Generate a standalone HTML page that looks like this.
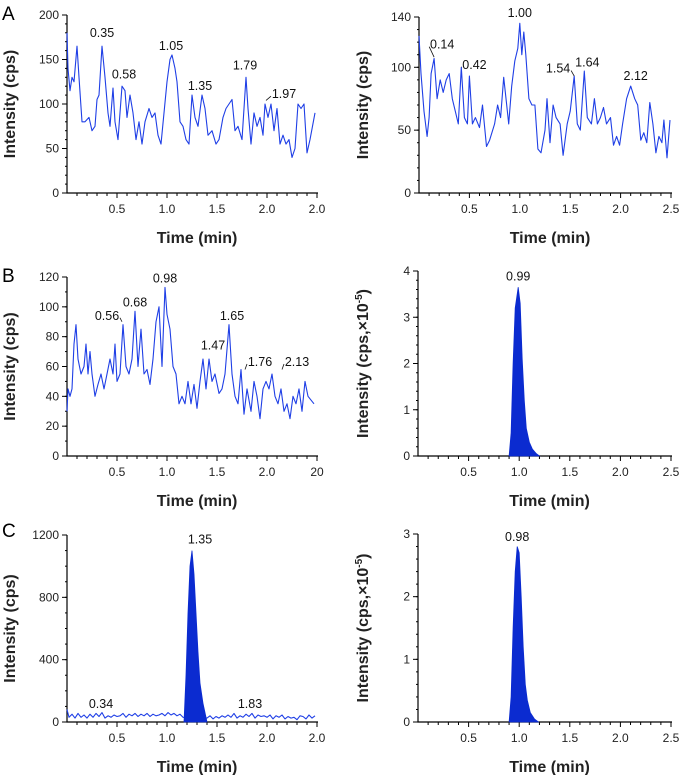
<!DOCTYPE html>
<html><head><meta charset="utf-8"><style>
html,body{margin:0;padding:0;background:#fff}
svg{display:block;font-family:"Liberation Sans",Arial,sans-serif}
</style></head><body>
<svg id="fig" width="690" height="775" viewBox="0 0 690 775">
<text x="2" y="20" font-size="19">A</text>
<text x="2" y="282" font-size="19">B</text>
<text x="2" y="537" font-size="19">C</text>
</svg>
<script>
// ---- data ----
const aLeftTimes=[0,0.01,0.03,0.05,0.07,0.10,0.12,0.15,0.18,0.22,0.25,0.28,0.30,0.32,0.35,0.38,0.41,0.43,0.46,0.48,0.51,0.55,0.58,0.60,0.63,0.66,0.69,0.72,0.75,0.78,0.82,0.85,0.88,0.91,0.94,0.97,1.00,1.03,1.05,1.08,1.10,1.13,1.16,1.19,1.22,1.25,1.28,1.31,1.35,1.38,1.41,1.45,1.49,1.52,1.56,1.59,1.62,1.65,1.68,1.71,1.75,1.79,1.81,1.84,1.87,1.90,1.93,1.96,1.98,2.01,2.04,2.07,2.10,2.13,2.16,2.19,2.22,2.25,2.28,2.31,2.34,2.37,2.40,2.43,2.48];
const aLeftValues=[180,140,115,130,125,165,130,80,80,85,70,75,105,110,165,130,90,75,118,80,60,120,115,85,110,90,60,80,55,80,95,85,90,65,55,90,125,150,155,140,125,80,75,60,55,110,85,75,110,95,65,70,55,60,85,95,100,105,70,75,60,130,95,55,90,75,85,65,100,85,100,70,95,55,65,55,60,40,50,100,95,100,45,60,90];
const aRightTimes=[0,0.02,0.05,0.08,0.10,0.12,0.15,0.18,0.21,0.24,0.27,0.30,0.33,0.36,0.39,0.42,0.45,0.48,0.50,0.53,0.56,0.60,0.63,0.67,0.70,0.75,0.78,0.81,0.84,0.87,0.89,0.92,0.95,0.98,1.00,1.02,1.04,1.06,1.09,1.12,1.15,1.18,1.21,1.25,1.27,1.30,1.33,1.36,1.40,1.43,1.47,1.50,1.54,1.57,1.60,1.64,1.67,1.71,1.74,1.77,1.80,1.83,1.86,1.90,1.93,1.96,1.99,2.02,2.06,2.10,2.14,2.17,2.20,2.23,2.26,2.29,2.32,2.35,2.38,2.41,2.43,2.46,2.49];
const aRightValues=[125,95,65,45,60,95,107,75,90,80,90,95,75,65,55,100,60,55,93,55,60,52,70,37,42,55,70,60,92,70,55,85,105,115,135,110,128,110,75,70,70,35,32,50,75,40,70,60,55,30,55,65,93,55,50,97,60,55,75,55,60,68,55,60,38,45,38,55,75,85,75,70,42,48,40,72,55,32,45,40,58,28,58];
const bLeftTimes=[0,0.01,0.03,0.05,0.07,0.09,0.11,0.14,0.17,0.19,0.21,0.23,0.25,0.28,0.31,0.34,0.37,0.40,0.43,0.46,0.48,0.50,0.53,0.56,0.59,0.62,0.65,0.68,0.71,0.74,0.77,0.80,0.83,0.86,0.89,0.92,0.95,0.98,1.00,1.03,1.06,1.09,1.12,1.15,1.18,1.21,1.24,1.27,1.30,1.33,1.36,1.39,1.42,1.45,1.48,1.52,1.55,1.58,1.62,1.65,1.68,1.71,1.74,1.77,1.80,1.84,1.87,1.90,1.93,1.96,1.99,2.02,2.05,2.08,2.11,2.14,2.17,2.20,2.23,2.26,2.29,2.32,2.35,2.38,2.41,2.47];
const bLeftValues=[30,45,40,45,75,88,65,55,60,75,55,70,55,40,48,55,45,55,65,55,75,50,55,88,60,55,65,97,60,85,55,58,48,65,90,100,60,113,95,85,60,55,35,40,35,50,35,48,32,50,65,45,65,50,55,42,45,55,88,55,40,35,58,28,45,30,50,40,25,45,50,45,55,40,35,45,30,35,25,40,35,45,30,50,40,35];
const cLeftTimes=[0,0.02,0.05,0.08,0.11,0.14,0.17,0.20,0.23,0.26,0.29,0.32,0.35,0.38,0.41,0.44,0.47,0.50,0.53,0.56,0.59,0.62,0.65,0.68,0.71,0.74,0.77,0.80,0.83,0.86,0.89,0.92,0.95,0.98,1.01,1.04,1.07,1.10,1.13,1.16,1.40,1.43,1.46,1.49,1.52,1.55,1.58,1.61,1.64,1.67,1.70,1.73,1.76,1.79,1.82,1.85,1.88,1.91,1.94,1.97,2.00,2.03,2.06,2.09,2.12,2.15,2.18,2.21,2.24,2.27,2.30,2.33,2.36,2.39,2.42,2.45,2.48];
const cLeftValues=[80,30,50,25,55,30,45,25,50,30,55,35,60,25,40,30,45,35,40,55,30,50,40,55,35,50,40,55,35,50,40,45,55,40,60,45,55,40,50,30,25,40,20,35,25,40,30,45,30,55,25,40,30,50,35,55,25,45,35,40,30,45,20,40,30,45,20,35,25,30,15,40,35,20,45,25,40];
const cLeftPeakTimes=[1.17,1.19,1.21,1.23,1.25,1.27,1.29,1.31,1.33,1.36,1.38,1.40];
const cLeftPeakValues=[0,300,700,1000,1100,950,700,450,250,120,60,0];
const bRightPeakTimes=[0.90,0.92,0.94,0.96,0.99,1.01,1.03,1.05,1.07,1.10,1.13,1.17,1.20];
const bRightPeakValues=[0,0.5,2.0,3.2,3.65,3.3,2.1,1.2,0.6,0.3,0.15,0.05,0];
const cRightPeakTimes=[0.90,0.92,0.94,0.96,0.98,1.00,1.02,1.04,1.06,1.08,1.11,1.15,1.19];
const cRightPeakValues=[0,0.4,1.5,2.4,2.8,2.7,2.0,1.2,0.6,0.35,0.15,0.05,0];
const xTickValues=[0.5,1.0,1.5,2.0,2.5];
const xTickLabelsLeftA=["0.5","1.0","1.5","2.0","2.0"];
const xTickLabelsLeftB=["0.5","1.0","1.5","2.0","20"];
const xTickLabelsLeftC=["0.5","1.0","1.5","2.0","2.0"];
const xTickLabelsRight=["0.5","1.0","1.5","2.0","2.5"];
const aLeftYTicks=[0,50,100,150,200];
const aRightYTicks=[0,50,100,140];
const bLeftYTicks=[0,20,40,60,80,100,120];
const bRightYTicks=[0,1,2,3,4];
const cLeftYTicks=[0,400,800,1200];
const cRightYTicks=[0,1,2,3];
// annotation: label text, label time, label value, leader-from time, leader-from value (null = no leader)
const aLeftNotes=[["0.35",0.35,180,null,null],["0.58",0.57,133,null,null],["1.05",1.04,165,null,null],["1.35",1.33,120,null,null],["1.79",1.78,143,null,null],["1.97",2.17,111,1.99,104]];
const aRightNotes=[["0.14",0.23,118,0.15,108],["0.42",0.55,102,0.42,100],["1.00",1.00,143,null,null],["1.54",1.38,99,1.54,93],["1.64",1.67,104,null,null],["2.12",2.15,93,null,null]];
const bLeftNotes=[["0.56",0.40,94,0.55,90],["0.68",0.68,103,null,null],["0.98",0.98,119,null,null],["1.47",1.46,74,null,null],["1.65",1.65,94,null,null],["1.76",1.93,63,1.78,58],["2.13",2.30,63,2.15,58]];
const bRightNotes=[["0.99",0.99,3.88,null,null]];
const cLeftNotes=[["1.35",1.33,1170,null,null],["0.34",0.34,115,null,null],["1.83",1.83,115,null,null]];
const cRightNotes=[["0.98",0.98,2.95,null,null]];

const NS="http://www.w3.org/2000/svg";
const svg=document.getElementById('fig');
const LINE="#1f3fe6", FILL="#0b2bd0";
function mk(tag,attrs,parent){const e=document.createElementNS(NS,tag);for(const k in attrs)e.setAttribute(k,attrs[k]);(parent||svg).appendChild(e);return e;}

function panel(c){
  const g=mk('g',{});
  
  
  const xs=t=>c.x0+t/2.5*(c.x1-c.x0);
  const ys=v=>c.yb-v/c.ymax*(c.yb-c.yt);
  // axes
  const ax=mk('path',{d:`M${c.x0},${c.yt} V${c.yb} H${c.x1+1}`,stroke:'#000','stroke-width':1.2,fill:'none'},g);
  
  
  // x minor ticks
  for(let i=1;i<=25;i++){const t=i/10;const x=xs(t);const major=(i%5===0);
    mk('line',{x1:x,x2:x,y1:c.yb,y2:c.yb+(major?5:3),stroke:'#000','stroke-width':1},g);}
  xTickValues.forEach((t,i)=>{const tx=mk('text',{x:xs(t),y:c.yb+20,'font-size':12,'text-anchor':'middle',fill:'#222'},g);tx.textContent=c.xLabels[i];
    
    });
  // y ticks
  const step=c.ymax/c.minorN;
  for(let i=0;i<=c.minorN;i++){const y=ys(i*step);mk('line',{x1:c.x0-2,x2:c.x0,y1:y,y2:y,stroke:'#000','stroke-width':1},g);}
  c.yTicks.forEach(v=>{const y=ys(v);mk('line',{x1:c.x0-5,x2:c.x0,y1:y,y2:y,stroke:'#000','stroke-width':1},g);
    const tx=mk('text',{x:c.x0-8,y:y+4,'font-size':12,'text-anchor':'end',fill:'#222'},g);tx.textContent=String(v);
    
    });
  // titles
  const xt=mk('text',{x:(c.x0+c.x1)/2+5,y:c.yb+50,'font-size':16,'font-weight':'bold','text-anchor':'middle',fill:'#222'},g);
  xt.textContent='Time (min)';
  
  
  const cy=(c.yt+c.yb)/2;
  const yt=mk('text',{x:0,y:0,'font-size':16,'font-weight':'bold','text-anchor':'middle',fill:'#222',transform:`translate(${c.ytx},${cy}) rotate(-90)`},g);
  if(c.sci){yt.textContent='Intensity (cps,×10';const s=mk('tspan',{dy:-6,'font-size':10},yt);s.textContent='-5';const s2=mk('tspan',{dy:6},yt);s2.textContent=')';}
  else yt.textContent='Intensity (cps)';
  
  
  // line trace
  if(c.times){const d=c.times.map((t,i)=>(i?'L':'M')+xs(t).toFixed(1)+','+ys(c.values[i]).toFixed(1)).join(' ');
    const p=mk('path',{d,stroke:LINE,'stroke-width':1.1,fill:'none','stroke-linejoin':'round'},g);
    
    }
  if(c.peakT){const d=c.peakT.map((t,i)=>(i?'L':'M')+xs(t).toFixed(1)+','+ys(c.peakV[i]).toFixed(1)).join(' ')+'Z';
    const p=mk('path',{d,fill:FILL,stroke:FILL,'stroke-width':0.8},g);
    
    }
  c.notes.forEach(n=>{const tx=mk('text',{x:xs(n[1]),y:ys(n[2])+4,'font-size':12.5,'text-anchor':'middle',fill:'#111'},g);tx.textContent=n[0];
    
    
    if(n[3]!==null){const lx=xs(n[1])+(n[3]<n[1]?-13:13);mk('line',{x1:lx,y1:ys(n[2])+2,x2:xs(n[3]),y2:ys(n[4]),stroke:'#111','stroke-width':0.8},g);}});
}
panel({name:'panel-a-left',x0:67,x1:317,yt:15,yb:193,ymax:200,minorN:20,yTicks:aLeftYTicks,xLabels:xTickLabelsLeftA,ytx:15,times:aLeftTimes,values:aLeftValues,notes:aLeftNotes});
panel({name:'panel-a-right',x0:419,x1:671,yt:17,yb:193,ymax:140,minorN:14,yTicks:aRightYTicks,xLabels:xTickLabelsRight,ytx:368,times:aRightTimes,values:aRightValues,notes:aRightNotes});
panel({name:'panel-b-left',x0:67,x1:317,yt:277,yb:456,ymax:120,minorN:12,yTicks:bLeftYTicks,xLabels:xTickLabelsLeftB,ytx:15,times:bLeftTimes,values:bLeftValues,notes:bLeftNotes});
panel({name:'panel-b-right',x0:418,x1:671,yt:271,yb:456,ymax:4,minorN:20,yTicks:bRightYTicks,xLabels:xTickLabelsRight,ytx:368,sci:true,peakT:bRightPeakTimes,peakV:bRightPeakValues,notes:bRightNotes});
panel({name:'panel-c-left',x0:67,x1:317,yt:535,yb:722,ymax:1200,minorN:12,yTicks:cLeftYTicks,xLabels:xTickLabelsLeftC,ytx:15,times:cLeftTimes,values:cLeftValues,peakT:cLeftPeakTimes,peakV:cLeftPeakValues,notes:cLeftNotes});
panel({name:'panel-c-right',x0:418,x1:671,yt:534,yb:722,ymax:3,minorN:15,yTicks:cRightYTicks,xLabels:xTickLabelsRight,ytx:368,sci:true,peakT:cRightPeakTimes,peakV:cRightPeakValues,notes:cRightNotes});
</script>
</body></html>
